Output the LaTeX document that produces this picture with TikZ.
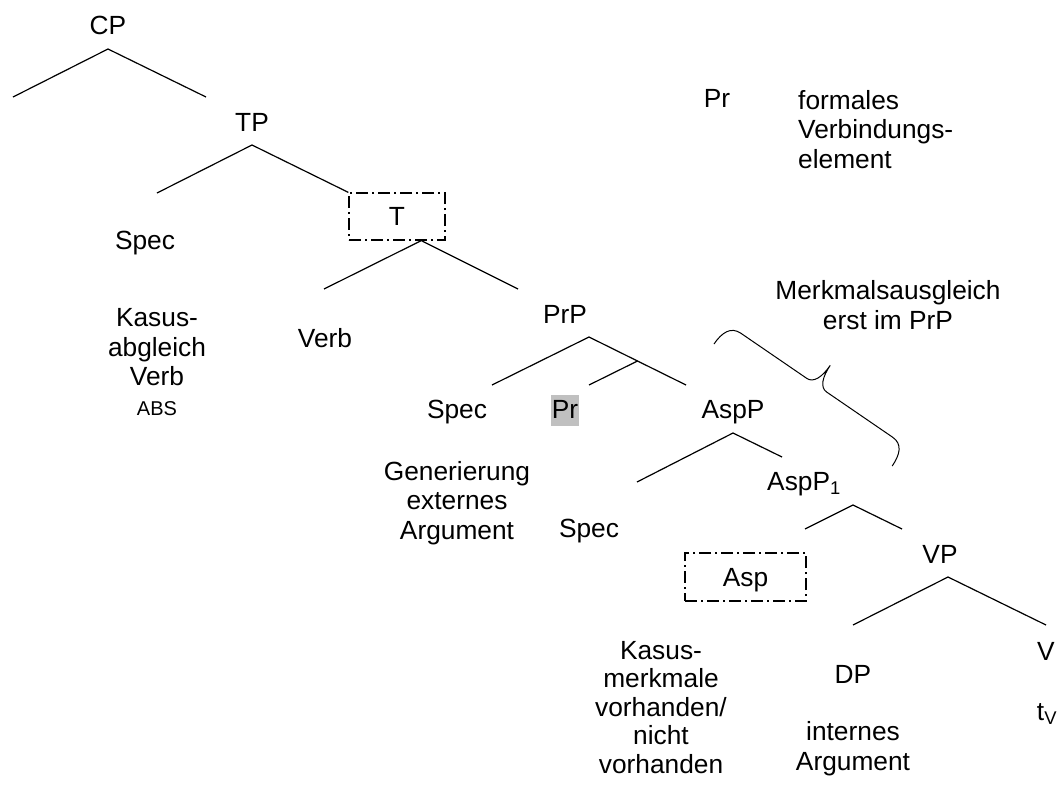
\documentclass[tikz,border=0pt]{standalone}
\usepackage{fontspec}
\setmainfont{Liberation Sans}
\definecolor{hlgray}{RGB}{192,192,192}
\usetikzlibrary{calc}

\begin{document}
\begin{tikzpicture}[x=1pt,y=-1pt,font=\fontsize{26.3}{29.5}\selectfont,
    cat/.style={anchor=base,inner sep=0pt,align=center},
    headbox/.style={draw,line width=1.2pt,dash pattern=on 12pt off 4pt on 2pt off 4pt,inner sep=0pt,text depth=0pt},
    br/.style={line width=1.2pt}]
  \useasboundingbox (0,0) rectangle (1058,785);
  % categories
  \node[cat] (cp) at (108,34) {CP};
  \node[cat] (tp) at (252,131) {TP};
  \node[headbox,minimum width=96pt,minimum height=47pt] (t) at (397,216.5) {T};
  \node[cat] (spect) at (145,249) {Spec};
  \node[cat] (verb) at (325,347) {Verb};
  \node[cat] (prp) at (565,323) {PrP};
  \node[cat] (specpr) at (457,418) {Spec};
  \node[cat,fill=hlgray,inner xsep=0.5pt,inner ysep=0.5pt,text height=22.5pt,text depth=7.5pt] (pr) at (565,418) {Pr};
  \node[cat] (aspp) at (733,418) {AspP};
  \node[cat] (specasp) at (589,537) {Spec};
  \node[cat] (asppone) at (804,490) {AspP\textsubscript{1}};
  \node[headbox,minimum width=121pt,minimum height=48pt] (asp) at (745.5,577) {Asp};
  \node[cat] (vp) at (940,563) {VP};
  \node[cat] (dp) at (853,683) {DP};
  \node[cat] (v) at (1046,660) {V};
  \node[cat] (tv) at (1047,720) {t\textsubscript{V}};
  % annotations (base = last line)
  \node[cat] (kasust) at (157,415) {Kasus-\\abgleich\\Verb\\{\fontsize{20}{31}\selectfont ABS}};
  \node[cat] (genarg) at (457,539) {Generierung\\externes\\Argument};
  \node[cat,font=\fontsize{26.3}{28.5}\selectfont] (kasusasp) at (661,773) {Kasus-\\merkmale\\vorhanden/\\nicht\\vorhanden};
  \node[cat] (intarg) at (853,770) {internes\\Argument};
  \node[cat] (merkmal) at (888,329) {Merkmalsausgleich\\erst im PrP};
  \node[cat] (legpr) at (717,107) {Pr};
  \node[cat,anchor=base west,align=left] (legtext) at (798,168) {formales\\Verbindungs-\\element};
  % branching points
  \coordinate (cp-a) at (108,49); \coordinate (cp-l) at (13,97); \coordinate (cp-r) at (206,97);
  \coordinate (tp-a) at (252,145); \coordinate (tp-l) at (157,193);
  \coordinate (t-a) at ($(t.south)!.5!(t.south east)$); \coordinate (t-l) at (324,289); \coordinate (t-r) at (518,289);
  \coordinate (prp-a) at (589,337); \coordinate (prp-l) at (492,385); \coordinate (prp-r) at (686,385); \coordinate (pr-top) at (589,385);
  \coordinate (aspp-a) at (733,433); \coordinate (aspp-l) at (637,482); \coordinate (aspp-r) at (782,457);
  \coordinate (asppone-a) at (853,505); \coordinate (asppone-l) at (805,529); \coordinate (asppone-r) at (902,529);
  \coordinate (vp-a) at (948,577); \coordinate (vp-l) at (853,625); \coordinate (vp-r) at (1046,625);
  \draw[br] (cp-l) -- (cp-a) -- (cp-r);
  \draw[br] (tp-l) -- (tp-a) -- (t.north west);
  \draw[br] (t-l) -- (t-a) -- (t-r);
  \draw[br] (prp-l) -- (prp-a) -- (prp-r);
  \draw[br] ($(prp-a)!.5!(prp-r)$) -- (pr-top);
  \draw[br] (aspp-l) -- (aspp-a) -- (aspp-r);
  \draw[br] (asppone-l) -- (asppone-a) -- (asppone-r);
  \draw[br] (vp-l) -- (vp-a) -- (vp-r);
  % brace
  \draw[br,line width=1pt] (714,344) .. controls (721.9,332.4) and (730.9,326.5) .. (740.8,333.2) -- (806.8,378.4)
    .. controls (813.4,383) and (822.3,377) .. (830.2,365.4)
    .. controls (822.3,377) and (820,387.5) .. (826.6,392) -- (892.6,437.2)
    .. controls (902.5,444) and (900.1,454.5) .. (892.2,466);
\end{tikzpicture}
\end{document}
